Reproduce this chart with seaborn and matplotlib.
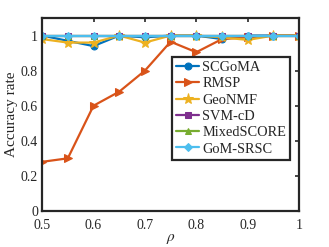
import matplotlib
matplotlib.use("Agg")
import matplotlib.pyplot as plt
import seaborn as sns
import pandas as pd

rho = [0.5, 0.55, 0.6, 0.65, 0.7, 0.75, 0.8, 0.85, 0.9, 0.95, 1.0]
scgoma = [1.0, 0.97, 0.94, 1.0, 0.99, 1.0, 1.0, 0.98, 1.0, 1.0, 1.0]
rmsp = [0.28, 0.30, 0.60, 0.68, 0.80, 0.965, 0.905, 0.98, 0.99, 1.0, 1.0]
geonmf = [0.98, 0.96, 0.96, 1.0, 0.96, 1.0, 1.0, 0.99, 0.975, 1.0, 1.0]
svmcd = [1.0] * 11
mixedscore = [1.0] * 11
gomsrsc = [1.0] * 11

methods = ["SCGoMA", "RMSP", "GeoNMF", "SVM-cD", "MixedSCORE", "GoM-SRSC"]
series = [scgoma, rmsp, geonmf, svmcd, mixedscore, gomsrsc]
colors = ["#0072BD", "#D95319", "#EDB120", "#7E2F8E", "#77AC30", "#4DBEEE"]
markers = ["o", ">", "*", "s", "^", "D"]
msizes = [5, 6, 8, 4, 5, 4]

rows = []
for m, s in zip(methods, series):
    for x, y in zip(rho, s):
        rows.append({"rho": x, "acc": y, "method": m})
df = pd.DataFrame(rows)

sns.set_style("white")
plt.rcParams["font.family"] = ["Liberation Serif", "DejaVu Serif"]
plt.rcParams["mathtext.fontset"] = "stix"

fig = plt.figure(figsize=(3.29, 2.47), dpi=100)
ax = fig.add_axes([0.128, 0.146, 0.781, 0.781])

for m, c, mk, ms in zip(methods, colors, markers, msizes):
    sub = df[df["method"] == m]
    sns.lineplot(data=sub, x="rho", y="acc", ax=ax, color=c, marker=mk,
                 markersize=ms, linewidth=1.6, label=m, markeredgecolor=c,
                 markerfacecolor=c)

ax.set_xlim(0.5, 1.0)
ax.set_ylim(0, 1.1)
ax.set_xticks([0.5, 0.6, 0.7, 0.8, 0.9, 1.0])
ax.set_xticklabels(["0.5", "0.6", "0.7", "0.8", "0.9", "1"])
ax.set_yticks([0, 0.2, 0.4, 0.6, 0.8, 1.0])
ax.set_yticklabels(["0", "0.2", "0.4", "0.6", "0.8", "1"])
ax.tick_params(direction="in", length=3, width=1.2, labelsize=10, colors="#262626",
               top=True, right=True, pad=3)
ax.tick_params(axis="x", pad=6)
for sp in ax.spines.values():
    sp.set_visible(True)
    sp.set_linewidth(1.6)
    sp.set_color("#262626")
ax.set_xlabel(r"$\rho$", fontsize=11, labelpad=0)
ax.set_ylabel("Accuracy rate", fontsize=11, labelpad=2)

leg = ax.legend(loc="upper left", bbox_to_anchor=(0.505, 0.8), fontsize=10.4,
                frameon=True, fancybox=False, framealpha=1, edgecolor="#262626",
                handlelength=1.6, handletextpad=0.2, borderpad=0.3,
                labelspacing=0.22, borderaxespad=0)
leg.get_frame().set_linewidth(1.6)

fig.savefig("out.png", dpi=100)
